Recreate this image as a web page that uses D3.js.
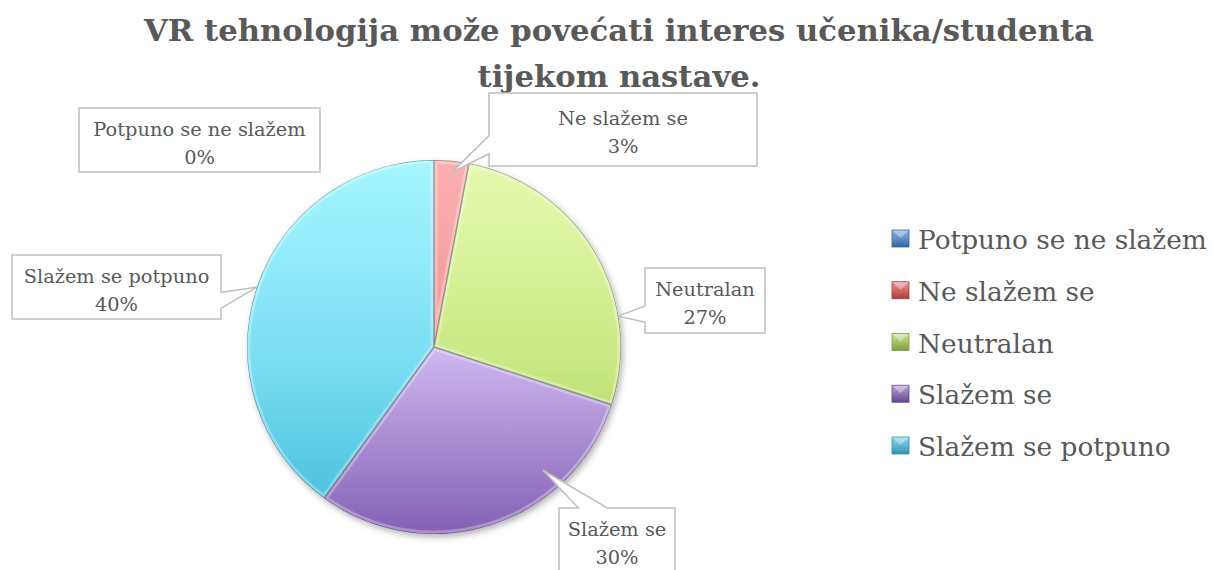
<!DOCTYPE html>
<html><head><meta charset="utf-8">
<script src="https://cdn.jsdelivr.net/npm/d3@7"></script>
<style>html,body{margin:0;padding:0;background:#fff}svg{display:block}</style>
</head><body>
<svg id="chart" width="1213" height="570"></svg>
<script>
// ---- data ----
const titleLines = ["VR tehnologija može povećati interes učenika/studenta", "tijekom nastave."];
const categories = ["Potpuno se ne slažem", "Ne slažem se", "Neutralan", "Slažem se", "Slažem se potpuno"];
const values = [0, 3, 27, 30, 40];
const percentLabels = ["0%", "3%", "27%", "30%", "40%"];

// ---- style / layout ----
const FONT = "'DejaVu Serif', 'Liberation Serif', serif";
const TEXT = "#595959";
const sliceTop = ["#8DB3E2", "#FBB0B0", "#E6FAB0", "#EADFFF", "#A6F7FF"];
const sliceMid = ["#5B8ED0", "#F29696", "#CDEA88", "#CDB9F0", "#7EE0F4"];
const sliceBot = ["#3A6AA6", "#D66464", "#A4CB4E", "#8560B6", "#42BCDA"];
const legTop = ["#8FB4E3", "#EC9A98", "#CDE69A", "#BBA6DA", "#8FDAEC"];
const legBot = ["#3566A6", "#AE3A37", "#7D9F3E", "#634889", "#2F93AF"];
const cx = 434, cy = 347, R = 187;
// callout boxes: [x, y, w, h], anchor (angle deg clockwise from top, radius fraction)
const boxes = [
  {b: [79, 108, 241, 64], a: null},
  {b: [489, 93, 268, 73], a: [5.9, 0.94]},
  {b: [645, 268, 120, 65], a: [80.5, 1.0]},
  {b: [559, 508, 116, 65], a: [138.5, 0.88]},
  {b: [12, 255, 209, 64], a: [288.7, 1.0]}
];

const svg = d3.select("#chart");
const defs = svg.append("defs");

function fitSize(text, weight, target) {
  const t = svg.append("text").attr("font-family", FONT).attr("font-weight", weight)
    .attr("font-size", 100).text(text);
  const w = t.node().getComputedTextLength();
  t.remove();
  return 100 * target / w;
}

// ---- title ----
const titleSize = fitSize(titleLines[0], "bold", 950);
svg.append("g").selectAll("text").data(titleLines).join("text")
  .attr("x", 619).attr("y", (d, i) => i === 0 ? 41 : 87)
  .attr("text-anchor", "middle")
  .attr("font-family", FONT).attr("font-weight", "bold")
  .attr("font-size", titleSize).attr("fill", TEXT)
  .text(d => d);

// ---- pie ----
const pie = d3.pie().sort(null).value(d => d).startAngle(0).endAngle(2 * Math.PI);
const arcs = pie(values);
const arc = d3.arc().innerRadius(0).outerRadius(R);

categories.forEach((c, i) => {
  const g = defs.append("linearGradient").attr("id", "sg" + i)
    .attr("gradientUnits", "userSpaceOnUse")
    .attr("x1", 0).attr("x2", 0).attr("y1", -R).attr("y2", R);
  g.append("stop").attr("offset", 0).attr("stop-color", sliceTop[i]);
  g.append("stop").attr("offset", 0.5).attr("stop-color", sliceMid[i]);
  g.append("stop").attr("offset", 1).attr("stop-color", sliceBot[i]);
  const lg = defs.append("linearGradient").attr("id", "lg" + i)
    .attr("x1", 0).attr("x2", 0).attr("y1", 0).attr("y2", 1);
  lg.append("stop").attr("offset", 0).attr("stop-color", legTop[i]);
  lg.append("stop").attr("offset", 1).attr("stop-color", legBot[i]);
});
const f = defs.append("filter").attr("id", "shadow").attr("x", "-10%").attr("y", "-10%").attr("width", "130%").attr("height", "130%");
f.append("feDropShadow").attr("dx", 2).attr("dy", 3).attr("stdDeviation", 3)
  .attr("flood-color", "#000").attr("flood-opacity", 0.3);

const pieG = svg.append("g").attr("transform", `translate(${cx},${cy})`);
pieG.append("g").attr("filter", "url(#shadow)")
  .selectAll("path").data(arcs).join("path")
  .attr("d", arc).attr("fill", (d, i) => `url(#sg${i})`);
arcs.forEach((d, i) => {
  defs.append("clipPath").attr("id", "clip" + i).append("path").attr("d", arc(d));
});
// inner bevel highlight + edge
pieG.append("g").selectAll("path").data(arcs).join("path")
  .attr("d", arc).attr("fill", "none")
  .attr("stroke", "#fff").attr("stroke-opacity", 0.3).attr("stroke-width", 7)
  .attr("clip-path", (d, i) => `url(#clip${i})`);
pieG.append("g").selectAll("path").data(arcs).join("path")
  .attr("d", arc).attr("fill", "none")
  .attr("stroke", "#000").attr("stroke-opacity", 0.35).attr("stroke-width", 1.4)
  .attr("clip-path", (d, i) => `url(#clip${i})`);

// ---- callout labels ----
const labelSize = fitSize("Ne slažem se", "normal", 130);
function calloutPath(bx, by, bw, bh, tip) {
  let p;
  if (!tip) {
    p = [[bx, by], [bx + bw, by], [bx + bw, by + bh], [bx, by + bh]];
  } else {
    const [tx, ty] = tip;
    const mx = bx + bw / 2, my = by + bh / 2;
    const dx = (tx - mx) / bw, dy = (ty - my) / bh;
    if (Math.abs(dx) > Math.abs(dy)) {
      const lower = ty >= my;
      const a = by + bh * (lower ? 7 / 12 : 2 / 12), b = by + bh * (lower ? 10 / 12 : 5 / 12);
      if (dx < 0) {
        p = [[bx, by], [bx + bw, by], [bx + bw, by + bh], [bx, by + bh], [bx, b], [tx, ty], [bx, a]];
      } else {
        p = [[bx, by], [bx + bw, by], [bx + bw, a], [tx, ty], [bx + bw, b], [bx + bw, by + bh], [bx, by + bh]];
      }
    } else {
      const left = tx < mx;
      const a = bx + bw * (left ? 2 / 12 : 7 / 12), b = bx + bw * (left ? 5 / 12 : 10 / 12);
      if (dy < 0) {
        p = [[bx, by], [a, by], [tx, ty], [b, by], [bx + bw, by], [bx + bw, by + bh], [bx, by + bh]];
      } else {
        p = [[bx, by], [bx + bw, by], [bx + bw, by + bh], [b, by + bh], [tx, ty], [a, by + bh], [bx, by + bh]];
      }
    }
  }
  return "M" + p.map(q => q.join(",")).join("L") + "Z";
}
const labG = svg.append("g");
categories.forEach((c, i) => {
  const L = boxes[i];
  const [bx, by, bw, bh] = L.b;
  let tip = null;
  if (L.a) {
    const ang = L.a[0] * Math.PI / 180, rr = R * L.a[1];
    tip = [cx + rr * Math.sin(ang), cy - rr * Math.cos(ang)];
  }
  labG.append("path").attr("d", calloutPath(bx, by, bw, bh, tip))
    .attr("fill", "#fff").attr("stroke", "#BFBFBF").attr("stroke-width", 1.5);
  const mxp = bx + bw / 2, myp = by + bh / 2;
  labG.append("text").attr("x", mxp).attr("y", myp - 4.5).attr("text-anchor", "middle")
    .attr("font-family", FONT).attr("font-size", labelSize).attr("fill", TEXT).text(c);
  labG.append("text").attr("x", mxp).attr("y", myp + 23.5).attr("text-anchor", "middle")
    .attr("font-family", FONT).attr("font-size", labelSize).attr("fill", TEXT).text(percentLabels[i]);
});

// ---- legend ----
const legSize = fitSize("Potpuno se ne slažem", "normal", 289);
const legY = d3.scalePoint().domain(categories).range([249, 456]);
const leg = svg.append("g").selectAll("g").data(categories).join("g")
  .attr("transform", d => `translate(0,${legY(d)})`);
leg.append("rect").attr("x", 892).attr("y", -19).attr("width", 17).attr("height", 17)
  .attr("fill", (d, i) => `url(#lg${i})`).attr("stroke", (d, i) => legBot[i]).attr("stroke-width", 0.8);
leg.append("path").attr("d", "M892.5,-18.5L900.5,-11L908.5,-18.5Z")
  .attr("fill", "#fff").attr("fill-opacity", 0.35);
leg.append("text").attr("x", 918).attr("y", 0)
  .attr("font-family", FONT).attr("font-size", legSize).attr("fill", TEXT).text(d => d);
</script>
</body></html>
